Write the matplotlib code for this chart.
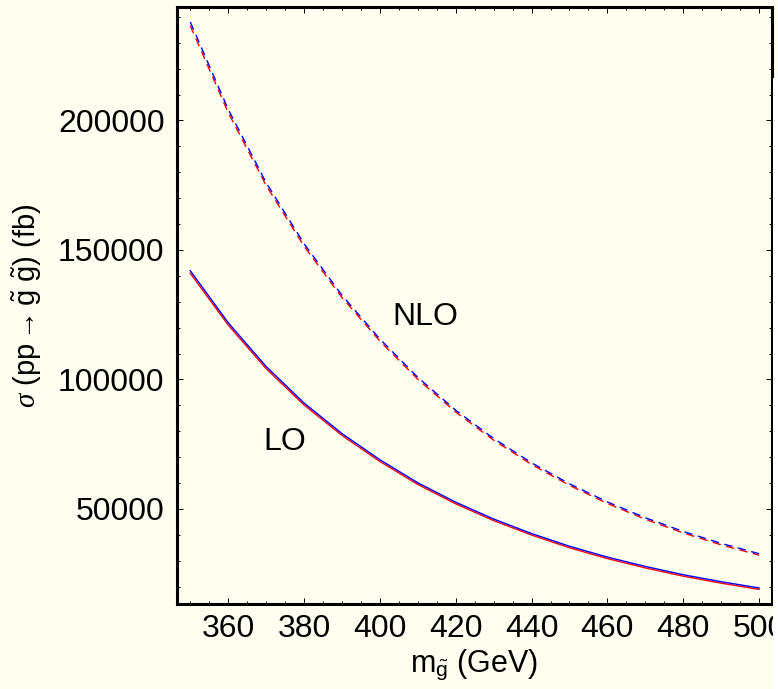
import matplotlib
matplotlib.use("Agg")
import matplotlib.pyplot as plt
from matplotlib.patches import Rectangle
from matplotlib.ticker import MultipleLocator, FixedLocator

# gluino mass (GeV) and cross sections (fb)
mass = [350, 360, 370, 380, 390, 400, 410, 420, 430, 440, 450, 460, 470, 480, 490, 500]
lo_blue = [142000, 121900, 105000, 90900, 79100, 69000, 60100, 52600, 46100,
           40500, 35600, 31400, 27800, 24600, 21900, 19500]
lo_red = [141000, 121000, 104180, 90140, 78390, 68330, 59460, 51980, 45500,
          39910, 35020, 30825, 27230, 24035, 21340, 18940]
nlo_blue = [238000, 204300, 176000, 152400, 132500, 115600, 100800, 88100, 77200,
            67800, 59700, 52700, 46600, 41300, 36700, 32700]
nlo_red = [236550, 203050, 174900, 151450, 131650, 114820, 100080, 87420, 76560,
           67180, 59100, 52110, 46020, 40730, 36135, 32140]

x_major = [360, 380, 400, 420, 440, 460, 480, 500]
y_major = [50000, 100000, 150000, 200000]

bg = "#FFFFF0"
plt.rcParams["font.family"] = ["Liberation Sans", "DejaVu Sans"]
plt.rcParams["mathtext.fontset"] = "custom"
plt.rcParams["mathtext.rm"] = "Liberation Sans"
plt.rcParams["mathtext.it"] = "Liberation Serif:italic"

fig = plt.figure(figsize=(7.78, 6.89), dpi=100, facecolor=bg)
ax = fig.add_axes([177 / 778, 85 / 689, 595 / 778, 597 / 689], facecolor=bg)

dash = (6, 4)
ax.plot(mass, lo_red, color="red", lw=1.0)
ax.plot(mass, lo_blue, color="blue", lw=1.0)
ax.plot(mass, nlo_red, color="red", lw=1.0, dashes=dash)
ax.plot(mass, nlo_blue, color="blue", lw=1.0, dashes=dash)

ax.text(412, 124300, "NLO", fontsize=23, ha="center", va="center")
ax.text(375, 75700, "LO", fontsize=23, ha="center", va="center")

ax.set_xlim(346.5, 503.4)
ax.set_ylim(13300, 243800)
ax.xaxis.set_major_locator(FixedLocator(x_major))
ax.yaxis.set_major_locator(FixedLocator(y_major))
ax.xaxis.set_minor_locator(MultipleLocator(5))
ax.yaxis.set_minor_locator(MultipleLocator(10000))
ax.tick_params(which="both", direction="in", top=True, right=True, width=0.7,
               labelsize=23)
ax.tick_params(which="major", length=4)
ax.tick_params(which="minor", length=2.2)
ax.tick_params(axis="x", pad=7)
ax.tick_params(axis="y", pad=9)
for s in ax.spines.values():
    s.set_linewidth(2.2)

ax.set_xlabel(r"m$_{\tilde{\mathrm{g}}}$ (GeV)", fontsize=22, labelpad=3)
ax.set_ylabel(r"$\sigma$ (pp$\,\!\rightarrow\!\,$$\tilde{\mathrm{g}}$ $\tilde{\mathrm{g}}$) (fb)",
              fontsize=21, labelpad=10)

# the source image is cropped on the right below the top strip
fig.patches.append(Rectangle((773 / 778, 0), 5 / 778, 611 / 689,
                             transform=fig.transFigure, facecolor="white",
                             edgecolor="none", zorder=10))

fig.savefig("out.png", dpi=100, facecolor=bg)
